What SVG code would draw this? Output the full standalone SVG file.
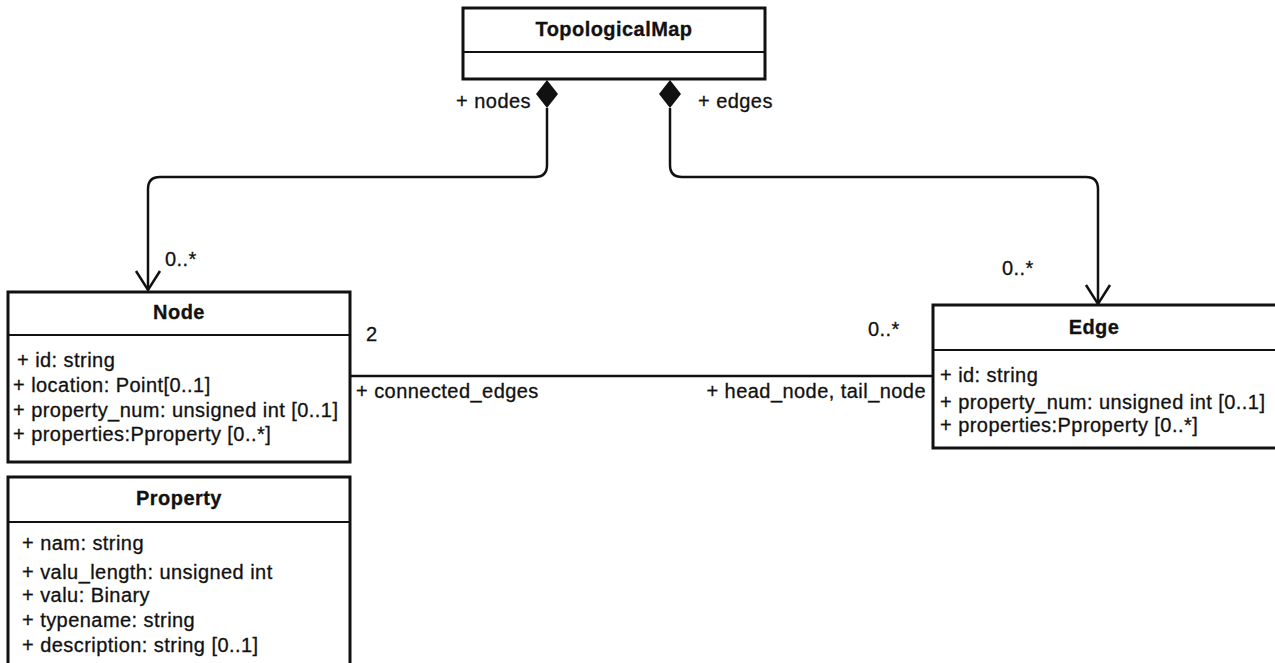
<svg xmlns="http://www.w3.org/2000/svg" width="1275" height="663" viewBox="0 0 1275 663">
<style>
.box{fill:#fff;stroke:#111;stroke-width:3}
.div{stroke:#111;stroke-width:1.8}
.t{font-family:"Liberation Sans",Arial,sans-serif;font-size:20px;letter-spacing:0.45px;fill:#111;stroke:#111;stroke-width:0.3}
.b{font-weight:bold;text-anchor:middle}
.c{fill:none;stroke:#111;stroke-width:2.5}
</style>
<rect width="1275" height="663" fill="#fff"/>
<g id="connectors">
<path class="c" d="M547,108 V165 Q547,177 535,177 H160 Q148,177 148,189 V290"/>
<path class="c" d="M136,271 L148,290 L160,271"/>
<path class="c" d="M670,108 V165 Q670,177 682,177 H1086 Q1098,177 1098,189 V304"/>
<path class="c" d="M1086,285 L1098,304 L1110,285"/>
<path d="M547,80 L558,94 L547,108 L536,94 Z" fill="#111"/>
<path d="M670,80 L681,94 L670,108 L659,94 Z" fill="#111"/>
<path class="c" d="M350,376 H933"/>
<text class="t" x="531" y="108" text-anchor="end">+ nodes</text>
<text class="t" x="698" y="108">+ edges</text>
<text class="t" x="165" y="266">0..*</text>
<text class="t" x="1002" y="275">0..*</text>
<text class="t" x="366" y="341">2</text>
<text class="t" x="868" y="336">0..*</text>
<text class="t" x="356" y="398">+ connected_edges</text>
<text class="t" x="926" y="398" text-anchor="end">+ head_node, tail_node</text>
</g>
<g id="TopologicalMap">
<rect class="box" x="463" y="8" width="302" height="71"/>
<line class="div" x1="463" y1="52" x2="765" y2="52"/>
<text class="t b" x="614" y="36">TopologicalMap</text>
</g>
<g id="Node">
<rect class="box" x="8" y="292" width="342" height="170"/>
<line class="div" x1="8" y1="335" x2="350" y2="335"/>
<text class="t b" x="179" y="319">Node</text>
<text class="t" x="17" y="367">+ id: string</text>
<text class="t" x="13" y="392">+ location: Point[0..1]</text>
<text class="t" x="13" y="417">+ property_num: unsigned int [0..1]</text>
<text class="t" x="13" y="441">+ properties:Pproperty [0..*]</text>
</g>
<g id="Property">
<rect class="box" x="8" y="477" width="342" height="200"/>
<line class="div" x1="8" y1="522" x2="350" y2="522"/>
<text class="t b" x="179" y="505">Property</text>
<text class="t" x="22" y="550">+ nam: string</text>
<text class="t" x="22" y="579">+ valu_length: unsigned int</text>
<text class="t" x="22" y="602">+ valu: Binary</text>
<text class="t" x="22" y="627">+ typename: string</text>
<text class="t" x="22" y="652">+ description: string [0..1]</text>
</g>
<g id="Edge">
<rect class="box" x="933" y="305" width="345" height="143"/>
<line class="div" x1="933" y1="350" x2="1275" y2="350"/>
<text class="t b" x="1094" y="334">Edge</text>
<text class="t" x="940" y="382">+ id: string</text>
<text class="t" x="940" y="409">+ property_num: unsigned int [0..1]</text>
<text class="t" x="940" y="432">+ properties:Pproperty [0..*]</text>
</g>
</svg>
